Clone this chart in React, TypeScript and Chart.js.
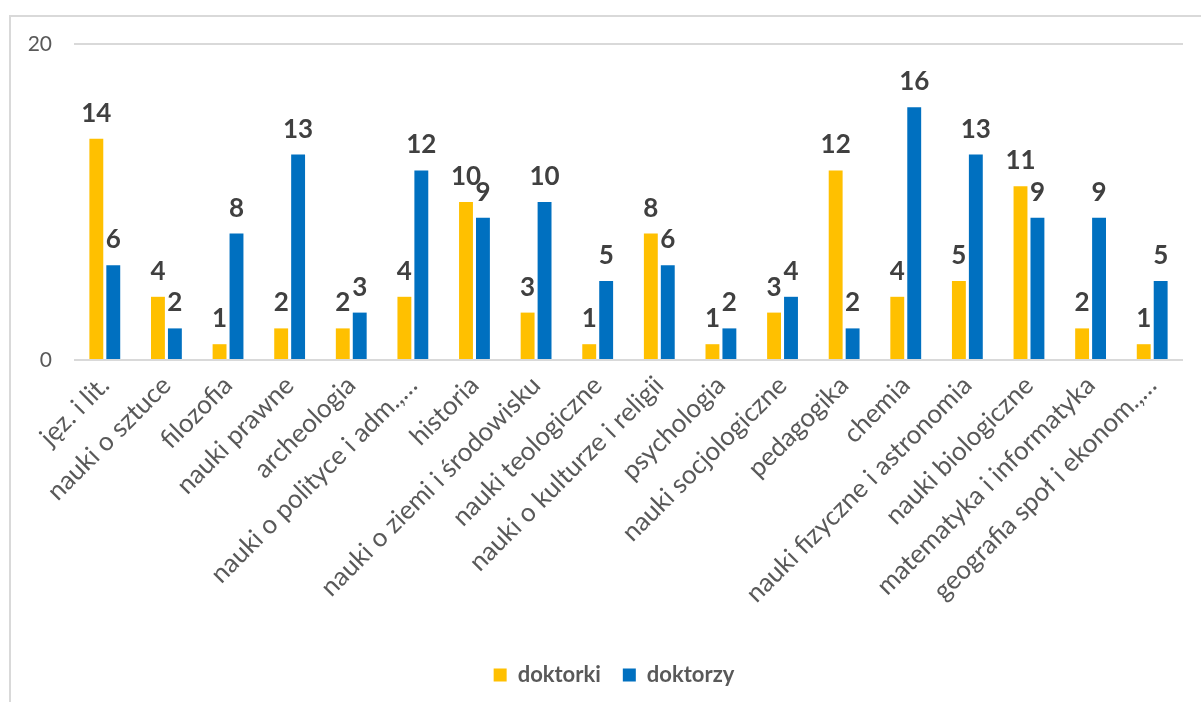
import React, { useEffect, useRef } from "react";
import { Chart, registerables } from "chart.js";

Chart.register(...registerables);

const categories = [
  "jęz. i lit.",
  "nauki o sztuce",
  "filozofia",
  "nauki prawne",
  "archeologia",
  "nauki o polityce i adm.,…",
  "historia",
  "nauki o ziemi i środowisku",
  "nauki teologiczne",
  "nauki o kulturze i religii",
  "psychologia",
  "nauki socjologiczne",
  "pedagogika",
  "chemia",
  "nauki fizyczne i astronomia",
  "nauki biologiczne",
  "matematyka i informatyka",
  "geografia społ i ekonom.,…",
];

const doktorki = [14, 4, 1, 2, 2, 4, 10, 3, 1, 8, 1, 3, 12, 4, 5, 11, 2, 1];
const doktorzy = [6, 2, 8, 13, 3, 12, 9, 10, 5, 6, 2, 4, 2, 16, 13, 9, 9, 5];

const yTicks = [0, 20];

const FONT = "Lato, 'Open Sans', sans-serif";

const dataLabelPlugin = {
  id: "dataLabels",
  afterDatasetsDraw(chart: any) {
    const ctx = chart.ctx;
    ctx.save();
    ctx.font = `bold 26px ${FONT}`;
    ctx.fillStyle = "#404040";
    ctx.textAlign = "center";
    ctx.textBaseline = "alphabetic";
    chart.data.datasets.forEach((ds: any, i: number) => {
      const meta = chart.getDatasetMeta(i);
      meta.data.forEach((el: any, j: number) => {
        ctx.fillText(String(ds.data[j]), el.x, el.y - 17);
      });
    });
    ctx.restore();
  },
};

const legendShiftPlugin = {
  id: "legendShift",
  afterLayout(chart: any) {
    if (chart.legend) {
      chart.legend.left += 8.5;
      chart.legend.right += 8.5;
    }
  },
};

export default function App() {
  const ref = useRef<HTMLCanvasElement>(null);

  useEffect(() => {
    document.documentElement.style.overflow = "hidden";
    document.body.style.overflow = "hidden";
    const chart = new Chart(ref.current as HTMLCanvasElement, {
      type: "bar",
      data: {
        labels: categories,
        datasets: [
          {
            label: "doktorki",
            data: doktorki,
            backgroundColor: "#FFC000",
            categoryPercentage: 0.55,
            barPercentage: 0.82,
          },
          {
            label: "doktorzy",
            data: doktorzy,
            backgroundColor: "#0070C0",
            categoryPercentage: 0.55,
            barPercentage: 0.82,
          },
        ],
      },
      options: {
        animation: false,
        responsive: true,
        maintainAspectRatio: false,
        layout: { padding: { top: 27, right: 34, left: 17, bottom: 6 } },
        plugins: {
          legend: {
            position: "bottom",
            labels: {
              boxWidth: 13,
              boxHeight: 13,
              color: "#595959",
              font: { family: FONT, size: 22, weight: "bold" },
              padding: 22,
            },
          },
          tooltip: { enabled: false },
        },
        scales: {
          x: {
            grid: { display: false },
            border: { display: false },
            ticks: {
              color: "#595959",
              font: { family: FONT, size: 26 },
              minRotation: 45,
              maxRotation: 45,
              autoSkip: false,
              padding: 2,
            },
            afterFit: (scale: any) => {
              scale.height = 282;
            },
          },
          y: {
            min: 0,
            max: 20,
            afterBuildTicks: (scale: any) => {
              scale.ticks = yTicks.map((v) => ({ value: v }));
            },
            grid: { color: "#d9d9d9", lineWidth: 2, drawTicks: false },
            border: { display: false },
            ticks: {
              color: "#595959",
              font: { family: FONT, size: 21 },
              padding: 22,
            },
            afterFit: (scale: any) => {
              scale.width = 46;
              scale.paddingTop = 12;
              scale.paddingBottom = 12;
            },
          },
        },
      },
      plugins: [dataLabelPlugin, legendShiftPlugin],
    });
    return () => chart.destroy();
  }, []);

  return (
    <div
      style={{
        position: "absolute",
        left: 9,
        top: 15,
        width: 1200,
        height: 700,
        border: "2px solid #d9d9d9",
        boxSizing: "border-box",
        background: "#fff",
      }}
    >
      <div style={{ position: "absolute", left: 0, top: 0, width: 1206, height: 685 }}>
        <canvas ref={ref} />
      </div>
    </div>
  );
}
